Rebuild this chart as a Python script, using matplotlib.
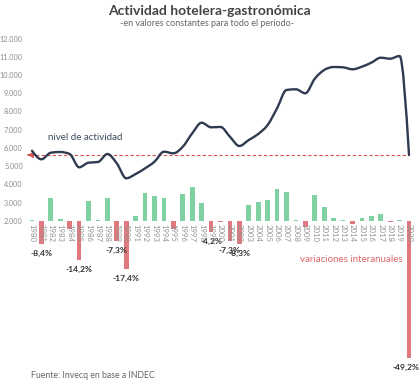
import matplotlib
matplotlib.use("Agg")
import matplotlib.pyplot as plt
from matplotlib.path import Path
from matplotlib.patches import PathPatch
import numpy as np

years = list(range(1980, 2021))
activity = [5846, 5374, 5736, 5775, 5665, 4934, 5187, 5225, 5665, 5150,
            4330, 4566, 4879, 5242, 5791, 5703, 6066, 6802, 7385, 7132,
            7150, 6615, 6104, 6434, 6764, 7258, 8176, 9181, 9220, 9000,
            9800, 10280, 10445, 10428, 10318, 10462, 10682, 10956, 10901, 11050,
            5610]
variation = [0.3, -8.4, 8.0, 0.6, -2.9, -14.2, 7.1, 0.3, 8.1, -7.3,
             -17.4, 1.7, 9.9, 8.8, 8.1, -2.9, 9.5, 12.0, 6.2, -4.2,
             -0.4, -7.3, -8.3, 5.7, 6.7, 7.4, 11.3, 10.1, 0.3, -2.4,
             9.2, 4.8, 1.0, 0.2, -1.2, 1.0, 1.7, 2.5, -0.4, 0.3,
             -49.2]
labeled_years = [1981, 1985, 1989, 1990, 1999, 2001, 2002, 2020]
yticks = [2000, 3000, 4000, 5000, 6000, 7000, 8000, 9000, 10000, 11000, 12000]
ytick_labels = ["2.000", "3.000", "4.000", "5.000", "6.000", "7.000",
                "8.000", "9.000", "10.000", "11.000", "12.000"]

FONT = "Lato"
W, H = 420, 385
fig = plt.figure(figsize=(W / 100, H / 100), dpi=100)

left_px, right_px, top_px, bot_px = 27, 414, 30, 362
ax = fig.add_axes([left_px / W, 1 - bot_px / H, (right_px - left_px) / W, (bot_px - top_px) / H])
ax2 = ax.twinx()

px_per_unit = 18.2 / 1000.0
base_px = 220.7
ax.set_ylim(2000 - (bot_px - base_px) / px_per_unit, 2000 + (base_px - top_px) / px_per_unit)
px_per_pct = 2.8
ax2.set_ylim(-(bot_px - base_px) / px_per_pct, (base_px - top_px) / px_per_pct)
ax.set_xlim(1979.47, 2020.53)
ax.set_autoscale_on(False)
ax2.set_autoscale_on(False)

green = "#80d1a1"
red = "#e0797e"
colors = [green if v >= 0 else red for v in variation]
ax2.bar(years, variation, width=0.5, color=colors, zorder=2)


def monotone_path(xs, ys):
    """Monotone-x cubic Bezier path (like d3.curveMonotoneX) through the data."""
    xs = np.asarray(xs, float)
    ys = np.asarray(ys, float)
    n = len(xs)
    h = np.diff(xs)
    s = np.diff(ys) / h
    t = np.zeros(n)
    for i in range(1, n - 1):
        s0, s1, h0, h1 = s[i - 1], s[i], h[i - 1], h[i]
        p = (s0 * h1 + s1 * h0) / (h0 + h1)
        t[i] = (np.sign(s0) + np.sign(s1)) * min(abs(s0), abs(s1), 0.5 * abs(p))
    t[0] = (3 * s[0] - t[1]) / 2
    t[-1] = (3 * s[-1] - t[-2]) / 2
    verts = [(xs[0], ys[0])]
    codes = [Path.MOVETO]
    for i in range(n - 1):
        dx = (xs[i + 1] - xs[i]) / 3
        verts += [(xs[i] + dx, ys[i] + dx * t[i]),
                  (xs[i + 1] - dx, ys[i + 1] - dx * t[i + 1]),
                  (xs[i + 1], ys[i + 1])]
        codes += [Path.CURVE4] * 3
    return Path(verts, codes)


ax.add_patch(PathPatch(monotone_path(years, activity), facecolor="none",
                       edgecolor="#2f3b50", lw=1.7, capstyle="round", joinstyle="round", zorder=4))
ax.set_zorder(ax2.get_zorder() + 1)
ax.patch.set_visible(False)

# reference dashed line at last value, with arrow head pointing left
ax.hlines(activity[-1], 1979.75, years[-1], colors="#d9534f", linestyles=(0, (3, 2)), lw=0.8, zorder=3)
ax.annotate("", xy=(1979.5, activity[-1]), xytext=(1979.9, activity[-1]),
            arrowprops=dict(arrowstyle="-|>,head_length=0.35,head_width=0.18", color="#d9534f", lw=0.8),
            zorder=3)

for a in (ax, ax2):
    for sp in a.spines.values():
        sp.set_visible(False)
ax.set_yticks(yticks)
ax.set_yticklabels(ytick_labels, fontsize=5.2, color="#8c8c8c", family=FONT)
ax.tick_params(axis="y", length=0, pad=3)
ax.set_xticks([])
ax2.set_yticks([])

for y in years:
    ax2.annotate(str(y), (y, 0), xytext=(0, -2.5), textcoords="offset points",
                 rotation=-90, ha="center", va="top", fontsize=5.6, color="#939393", family=FONT, zorder=5)

for y, v in zip(years, variation):
    if y in labeled_years:
        txt = ("%.1f" % v).replace(".", ",") + "%"
        dx = -2.5 if y == years[-1] else 0
        ax2.annotate(txt, (y, v), xytext=(dx, -6.5), textcoords="offset points",
                     ha="center", va="center", fontsize=6.1, fontweight="bold", color="#333333", family=FONT)

fig.text(85 / W, 1 - 137 / H, "nivel de actividad", ha="center", va="center",
         fontsize=7, color="#3d4a5c", family=FONT)
fig.text(351 / W, 1 - 260 / H, "variaciones interanuales", ha="center", va="center",
         fontsize=7, color="#e0666b", family=FONT)

fig.text(209 / W, 1 - 11 / H, "Actividad hotelera-gastronómica", ha="center", va="center",
         fontsize=10, fontweight="bold", color="#444444", family=FONT)
fig.text(207 / W, 1 - 24 / H, "-en valores constantes para todo el periodo-", ha="center", va="center",
         fontsize=6.5, color="#666666", family=FONT)
fig.text(31 / W, 1 - 375 / H, "Fuente: Invecq en base a INDEC", ha="left", va="center",
         fontsize=6.3, color="#666666", family=FONT)

fig.savefig("out.png", dpi=100, facecolor="white")
